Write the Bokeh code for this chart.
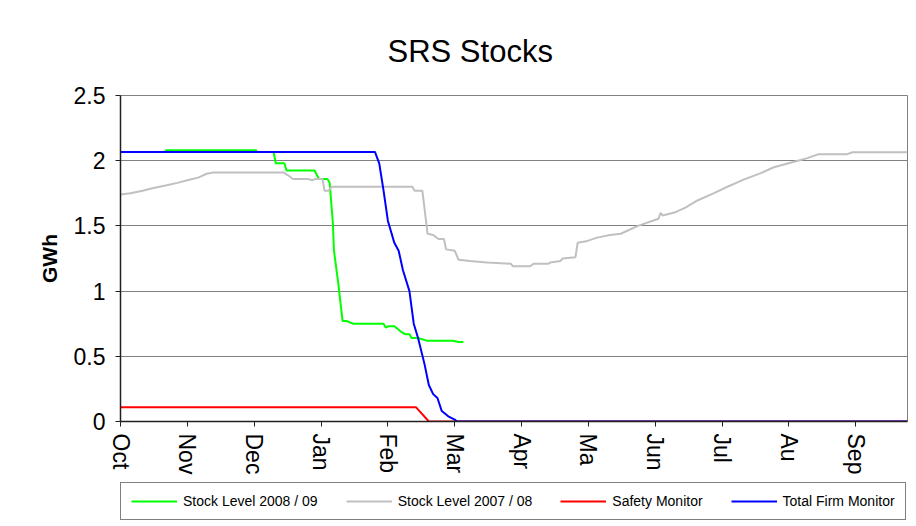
from bokeh.plotting import figure
from bokeh.layouts import column
from bokeh.models import Range1d, FixedTicker, Legend, LegendItem
from bokeh.embed import file_html
from bokeh.resources import INLINE

# ---- data (day index from 1 Oct, value in GWh) ----
month_labels = ["Oct", "Nov", "Dec", "Jan", "Feb", "Mar", "Apr", "Ma", "Jun", "Jul", "Au", "Sep"]
month_ticks = [0, 31, 62, 93, 124, 155, 186, 217, 248, 279, 310, 341]

green_day = [0, 21, 21, 63, 63, 71, 72, 76, 77, 90, 92, 96, 97, 98.5, 99, 101, 103, 105,
             108, 122, 123, 124, 127, 130, 132, 134, 135, 138, 142, 154, 157, 159]
green_val = [2.067, 2.067, 2.08, 2.08, 2.067, 2.067, 1.98, 1.98, 1.925, 1.925, 1.86, 1.86,
             1.83, 1.52, 1.31, 1.06, 0.77, 0.77, 0.75, 0.75, 0.72, 0.73, 0.73, 0.69, 0.67,
             0.67, 0.64, 0.64, 0.62, 0.62, 0.61, 0.61]

gray_day = [0, 4.6, 10.2, 15.3, 20.9, 26.4, 31, 36, 40, 43, 75.6, 77.5, 80, 87, 89, 90.4,
            93.7, 94.6, 96.5, 97.9, 135.4, 136.4, 140, 142.4, 145, 147.5, 150, 151, 155,
            156.8, 162, 170, 181, 182, 190, 191.6, 198.5, 199.4, 204, 205, 211, 212, 216.6,
            221, 227, 232, 240, 249.5, 250.5, 251.4, 257.4, 262, 267.6, 275, 281.5, 289,
            297, 303, 312, 318.6, 323.7, 337, 339.5, 365]
gray_val = [1.74, 1.75, 1.77, 1.79, 1.81, 1.83, 1.85, 1.87, 1.90, 1.91, 1.91, 1.89, 1.86,
            1.86, 1.85, 1.86, 1.86, 1.77, 1.77, 1.80, 1.80, 1.77, 1.77, 1.44, 1.43, 1.40,
            1.40, 1.32, 1.31, 1.24, 1.23, 1.22, 1.21, 1.19, 1.19, 1.21, 1.21, 1.22, 1.23,
            1.25, 1.26, 1.37, 1.385, 1.41, 1.43, 1.44, 1.50, 1.555, 1.60, 1.58, 1.605,
            1.64, 1.695, 1.75, 1.80, 1.855, 1.905, 1.95, 1.99, 2.02, 2.05, 2.05, 2.065, 2.065]

red_day = [0, 137, 143, 365]
red_val = [0.11, 0.11, 0.0, 0.0]

blue_day = [0, 118, 120, 122, 124, 127, 129, 131, 134, 136, 138, 141, 143, 145, 147, 149,
            152, 155, 156, 365]
blue_val = [2.067, 2.067, 1.98, 1.77, 1.54, 1.37, 1.31, 1.16, 1.0, 0.75, 0.64, 0.44, 0.28,
            0.21, 0.18, 0.08, 0.04, 0.015, 0.0, 0.0]

y_ticks = [0, 0.5, 1, 1.5, 2, 2.5]
y_labels = ["0", "0.5", "1", "1.5", "2", "2.5"]

series_names = ["Stock Level 2008 / 09", "Stock Level 2007 / 08", "Safety Monitor", "Total Firm Monitor"]
series_colors = ["#00FF00", "#C0C0C0", "#FF0000", "#0000FF"]

FONT = "Liberation Sans"
W = 912

p = figure(width=W, height=479, output_backend="svg", toolbar_location=None,
           x_range=Range1d(0, 365), y_range=Range1d(0, 2.5),
           min_border_left=120, min_border_right=5, min_border_top=95, min_border_bottom=58,
           background_fill_color="white", border_fill_color="white")

p.outline_line_color = "#808080"
p.outline_line_width = 1

# title
p.title.text = "SRS Stocks"
p.title.text_font = FONT
p.title.text_font_size = "31px"
p.title.text_font_style = "normal"
p.title.text_color = "black"
p.title.align = "left"
p.title.offset = 267
p.title.vertical_align = "top"
p.title.standoff = 50

# axes
p.xaxis.ticker = FixedTicker(ticks=month_ticks)
p.xaxis.major_label_overrides = {t: l for t, l in zip(month_ticks, month_labels)}
p.xaxis.major_label_orientation = "vertical"
p.yaxis.ticker = FixedTicker(ticks=y_ticks)
p.yaxis.major_label_overrides = {t: l for t, l in zip(y_ticks, y_labels)}
for ax in (p.xaxis[0], p.yaxis[0]):
    ax.major_label_text_font = FONT
    ax.major_label_text_font_size = "23px"
    ax.major_label_text_color = "black"
    ax.axis_line_color = "#202020"
    ax.axis_line_width = 1.5
    ax.major_tick_line_color = "#202020"
    ax.major_tick_in = 0
    ax.major_tick_out = 5
    ax.minor_tick_line_color = None
p.xaxis.major_label_standoff = 7
p.yaxis.major_label_standoff = 10
p.yaxis.axis_label = "GWh"
p.yaxis.axis_label_text_font = FONT
p.yaxis.axis_label_text_font_size = "21px"
p.yaxis.axis_label_text_font_style = "bold"
p.yaxis.axis_label_text_color = "black"
p.yaxis.axis_label_standoff = 10

p.xgrid.grid_line_color = None
p.ygrid.ticker = FixedTicker(ticks=y_ticks)
p.ygrid.grid_line_color = "#808080"
p.ygrid.grid_line_width = 1

# series
p.line(green_day, green_val, line_color=series_colors[0], line_width=2)
p.line(gray_day, gray_val, line_color=series_colors[1], line_width=2)
p.line(red_day, red_val, line_color=series_colors[2], line_width=2)
p.line(blue_day, blue_val, line_color=series_colors[3], line_width=2)

# legend strip (separate figure so the legend box is not clipped)
p2 = figure(width=W, height=47, output_backend="svg", toolbar_location=None,
            x_range=Range1d(0, 1), y_range=Range1d(0, 1),
            x_axis_type=None, y_axis_type=None,
            min_border_left=0, min_border_right=0, min_border_top=0, min_border_bottom=0,
            background_fill_color="white", border_fill_color="white")
p2.outline_line_color = None
items = []
for name, col in zip(series_names, series_colors):
    # legend proxies, placed outside the visible range
    r = p2.line(x=[-10, -9], y=[-10, -10], line_color=col, line_width=2)
    items.append(LegendItem(label=name, renderers=[r]))

legend = Legend(items=items, orientation="horizontal", location=(0, 6))
legend.border_line_color = "black"
legend.border_line_width = 1
legend.background_fill_color = "white"
legend.background_fill_alpha = 1
legend.padding = 10
legend.spacing = 28
legend.margin = 0
legend.glyph_width = 46
legend.glyph_height = 14
legend.label_standoff = 6
legend.label_text_font = FONT
legend.label_text_font_size = "14px"
legend.label_text_color = "black"
legend.label_height = 14
p2.add_layout(legend)

layout = column(p, p2, spacing=0)
open("out.html", "w").write(file_html(layout, INLINE))
